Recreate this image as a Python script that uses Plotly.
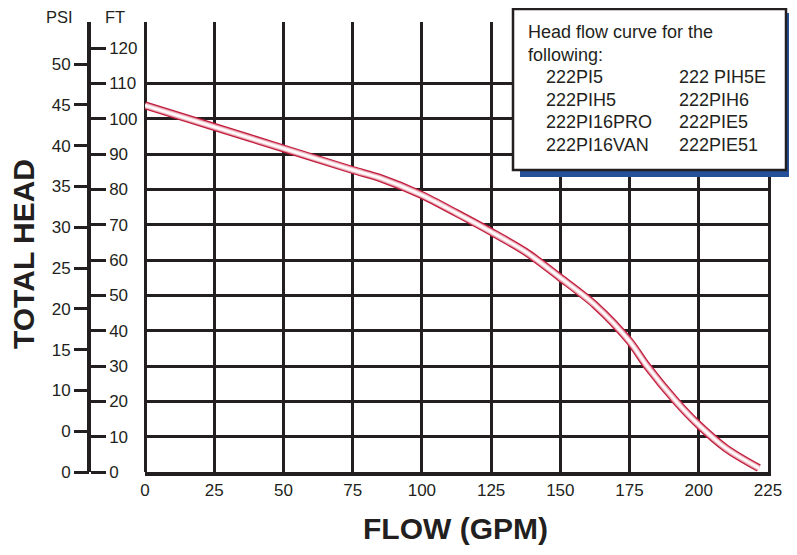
import plotly.graph_objects as go

# ---------------- data ----------------
flow_gpm = [0, 25, 50, 75, 85, 100, 112.5, 125, 137.5, 150, 162.5, 175, 181.3,
            191.8, 200, 210, 221.7]
head_ft = [103.8, 97.7, 91.6, 85.5, 83.2, 78.4, 73.3, 68.0, 62.3, 55.0, 47.3, 37.0,
           30.0, 20.0, 13.3, 6.6, 1.1]

x_ticks = [0, 25, 50, 75, 100, 125, 150, 175, 200, 225]
ft_ticks = [0, 10, 20, 30, 40, 50, 60, 70, 80, 90, 100, 110, 120]
grid_ft = [10, 20, 30, 40, 50, 60, 70, 80, 90, 100, 110]
psi_ticks = [0, 5, 10, 15, 20, 25, 30, 35, 40, 45, 50]
psi_labels = ["0", "0", "10", "15", "20", "25", "30", "35", "40", "45", "50"]

legend_title = ["Head flow curve for the", "following:"]
models_col1 = ["222PI5", "222PIH5", "222PI16PRO", "222PI16VAN"]
models_col2 = ["222 PIH5E", "222PIH6", "222PIE5", "222PIE51"]

FT_PER_PSI = 2.31
FT_MAX = 127.4

# ---------------- geometry ----------------
# the page body adds an 8px offset; the figure is sized so it fills the window
OFF = 8
W, H = 797 - OFF, 555 - OFF
ML, MR, MT, MB = 60 - OFF, 29, 22 - OFF, 83
PW, PH = W - ML - MR, H - MT - MB


def px_x(px):
    return (px - OFF - ML) / PW


def px_y(py):
    return (H - MB - (py - OFF)) / PH


INK = "#231f20"
FONT = "Liberation Sans, Arial, Helvetica, sans-serif"
x_dom0 = px_x(145)
axis_pos = px_x(89)

fig = go.Figure()

# curve: tube-like red line with white highlight
for col, wd in [("#c01c3c", 8), ("#e8a5b1", 5.5), ("#fbe6ea", 3.5), ("#ffffff", 1.5)]:
    fig.add_trace(go.Scatter(
        x=flow_gpm, y=head_ft, mode="lines",
        line=dict(color=col, width=wd, shape="spline", smoothing=0.8),
        hoverinfo="skip", showlegend=False, cliponaxis=False,
        xaxis="x", yaxis="y"))

# invisible traces to bind the FT and PSI axes
fig.add_trace(go.Scatter(x=flow_gpm, y=head_ft, mode="lines", opacity=0,
                         line=dict(width=0), hoverinfo="skip", showlegend=False,
                         xaxis="x", yaxis="y2"))
fig.add_trace(go.Scatter(x=flow_gpm, y=[h / FT_PER_PSI for h in head_ft], mode="lines",
                         opacity=0, line=dict(width=0), hoverinfo="skip",
                         showlegend=False, xaxis="x", yaxis="y3"))

tickfont = dict(family=FONT, size=17, color=INK)

fig.update_layout(
    width=W, height=H,
    margin=dict(l=ML, r=MR, t=MT, b=MB),
    paper_bgcolor="white", plot_bgcolor="white",
    showlegend=False,
    xaxis=dict(domain=[x_dom0, 1], range=[0, 225], tickvals=x_ticks,
               ticktext=[str(v) for v in x_ticks], ticks="", tickfont=tickfont,
               showgrid=True, gridcolor=INK, gridwidth=2.5,
               zeroline=True, zerolinecolor=INK, zerolinewidth=3,
               showline=True, linecolor=INK, linewidth=3.5,
               anchor="y", automargin=False, fixedrange=True),
    yaxis=dict(domain=[0, 1], range=[0, FT_MAX], tickvals=grid_ft,
               showticklabels=False, ticks="", showgrid=True, gridcolor=INK,
               gridwidth=2.5, zeroline=False, showline=True, side="right",
               linecolor=INK, linewidth=3, anchor="x", automargin=False,
               fixedrange=True),
    yaxis2=dict(overlaying="y", anchor="free", position=axis_pos, side="right",
                range=[0, FT_MAX], tickvals=ft_ticks,
                ticktext=[str(v) for v in ft_ticks], ticks="outside", ticklen=15,
                tickwidth=3, tickcolor=INK, tickfont=tickfont,
                showline=True, linecolor=INK, linewidth=3.5, showgrid=False,
                zeroline=False, automargin=False, fixedrange=True),
    yaxis3=dict(overlaying="y", anchor="free", position=axis_pos, side="left",
                range=[0, FT_MAX / FT_PER_PSI], tickvals=psi_ticks,
                ticktext=psi_labels, ticks="outside", ticklen=15, tickwidth=3,
                tickcolor=INK, tickfont=tickfont, showline=False, showgrid=False,
                zeroline=False, automargin=False, fixedrange=True),
)

# legend box with shadow
fig.add_shape(type="rect", xref="paper", yref="paper", layer="above",
              x0=px_x(520), x1=px_x(792), y0=px_y(177), y1=px_y(13),
              fillcolor="#24509a", line=dict(width=0))
fig.add_shape(type="rect", xref="paper", yref="paper", layer="above",
              x0=px_x(513), x1=px_x(786), y0=px_y(170), y1=px_y(9),
              fillcolor="white", line=dict(color=INK, width=2.5))

annots = []
legfont = dict(family=FONT, size=18, color=INK)
for i, t in enumerate(legend_title):
    annots.append(dict(text=t, x=px_x(526), y=px_y(32 + 22.6 * i), xref="paper",
                       yref="paper", xanchor="left", yanchor="middle",
                       showarrow=False, font=legfont))
for i, (a, b) in enumerate(zip(models_col1, models_col2)):
    yy = px_y(77 + 22.7 * i)
    annots.append(dict(text=a, x=px_x(544), y=yy, xref="paper", yref="paper",
                       xanchor="left", yanchor="middle", showarrow=False, font=legfont))
    annots.append(dict(text=b, x=px_x(677), y=yy, xref="paper", yref="paper",
                       xanchor="left", yanchor="middle", showarrow=False, font=legfont))

# axis unit labels and titles
annots.append(dict(text="PSI", x=px_x(59), y=px_y(17), xref="paper", yref="paper",
                   xanchor="center", yanchor="middle", showarrow=False,
                   font=dict(family=FONT, size=16.5, color=INK)))
annots.append(dict(text="FT", x=px_x(115), y=px_y(17), xref="paper", yref="paper",
                   xanchor="center", yanchor="middle", showarrow=False,
                   font=dict(family=FONT, size=16.5, color=INK)))
annots.append(dict(text="<b>FLOW (GPM)</b>", x=px_x(456), y=px_y(528), xref="paper",
                   yref="paper", xanchor="center", yanchor="middle", showarrow=False,
                   font=dict(family=FONT, size=30, color=INK)))
annots.append(dict(text="<b>TOTAL HEAD</b>", x=px_x(23), y=px_y(254), xref="paper",
                   yref="paper", xanchor="center", yanchor="middle", showarrow=False,
                   textangle=-90, font=dict(family=FONT, size=30, color=INK)))

fig.update_layout(annotations=annots)

fig.write_html("out.html")
